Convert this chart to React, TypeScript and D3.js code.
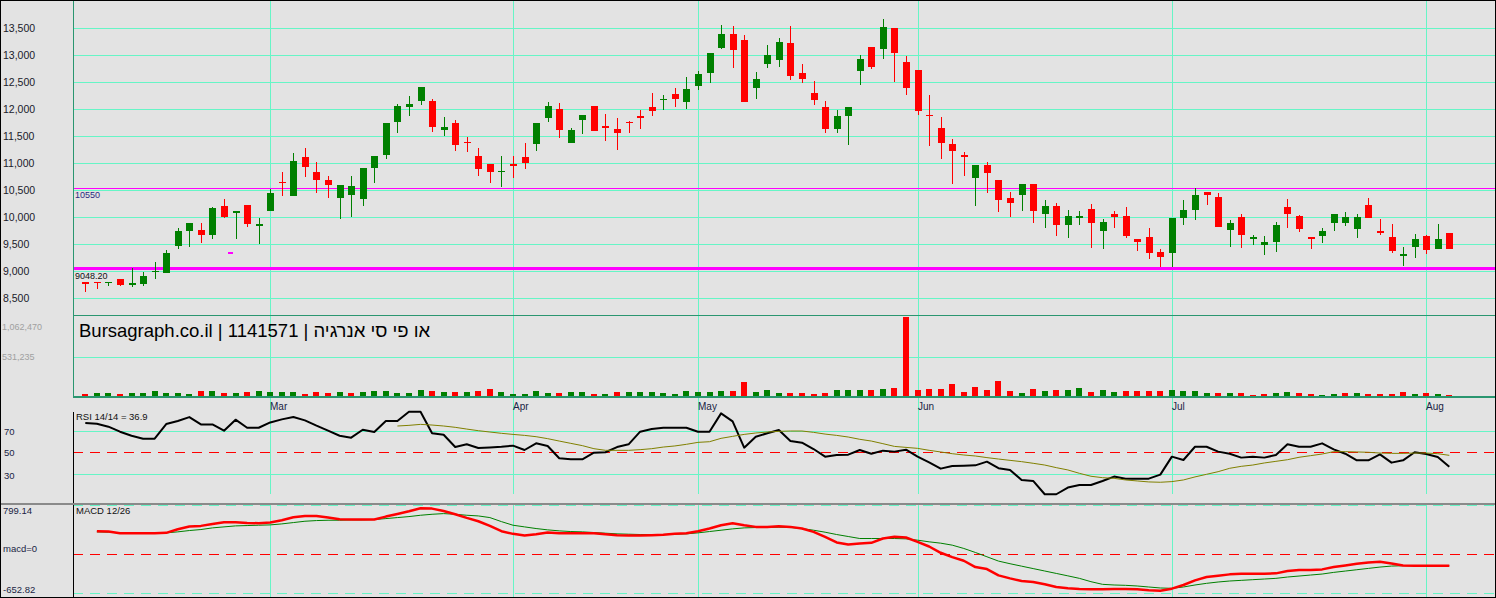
import { useEffect, useRef } from 'react';
import * as d3 from 'd3';

// OHLC per trading day (index 0 = mid Feb)
const opens = [8800, 8810, 8790, 8850, 8755, 8765, 8995, 8965, 9475, 9755, 9765, 9680, 10210, 10100, 10230, 9865, 10125, 10655, 10400, 11115, 10840, 10690, 10365, 10420, 10330, 10920, 11160, 11770, 12050, 12160, 12150, 11625, 11740, 11395, 11135, 10990, 10855, 10985, 11115, 11365, 11845, 12005, 11385, 11810, 12060, 11690, 11635, 11770, 11875, 12045, 12185, 12285, 12140, 12440, 12680, 13140, 13395, 13285, 12400, 12835, 12920, 13230, 12675, 12300, 12045, 11640, 11885, 12715, 13155, 13125, 13505, 12875, 12730, 11900, 11655, 11360, 11155, 10735, 10970, 10690, 10360, 10420, 10615, 10070, 10210, 9865, 10010, 10155, 9755, 10060, 10025, 9600, 9635, 9360, 9345, 9995, 10140, 10470, 10375, 9770, 10005, 9625, 9495, 9550, 10190, 10025, 9635, 9660, 9900, 9900, 9790, 10230, 9745, 9635, 9310, 9455, 9655, 9420, 9710];
const highs = [8810, 8810, 8810, 8860, 9055, 8990, 9165, 9395, 9795, 9900, 9895, 10200, 10340, 10115, 10230, 9995, 10525, 10840, 11190, 11285, 11025, 10765, 10605, 10765, 10915, 11140, 11745, 12100, 12240, 12410, 12190, 11850, 11795, 11490, 11285, 10995, 11135, 11135, 11375, 11750, 12135, 12115, 11655, 11895, 12062, 11915, 11840, 11790, 11990, 12300, 12265, 12395, 12600, 12710, 13045, 13560, 13545, 13375, 12690, 13200, 13320, 13545, 12840, 12525, 12155, 11990, 12045, 13005, 13155, 13675, 13506, 12990, 12730, 12265, 11860, 11450, 11210, 10970, 11025, 10690, 10470, 10620, 10620, 10320, 10265, 10135, 10115, 10245, 9970, 10115, 10190, 9600, 9800, 9415, 9995, 10320, 10550, 10470, 10450, 9950, 10060, 9680, 9655, 9915, 10340, 10045, 9635, 9800, 10065, 10100, 10060, 10360, 9970, 9875, 9450, 9690, 9675, 9875, 9710];
const lows = [8620, 8680, 8720, 8720, 8710, 8730, 8850, 8960, 9405, 9455, 9520, 9605, 9980, 9590, 9825, 9510, 10120, 10400, 10400, 10740, 10455, 10365, 9975, 10010, 10215, 10640, 11085, 11570, 11885, 12075, 11585, 11510, 11235, 11215, 10770, 10630, 10570, 10735, 10895, 11235, 11770, 11475, 11380, 11550, 11605, 11420, 11255, 11570, 11640, 11885, 11995, 12050, 12010, 12365, 12495, 13110, 12770, 12140, 12195, 12770, 12790, 12550, 12495, 12085, 11570, 11570, 11345, 12455, 12755, 12940, 12510, 12270, 11900, 11325, 11085, 10625, 10770, 10215, 10455, 10105, 10005, 10125, 9900, 9810, 9660, 9625, 9865, 9440, 9420, 9810, 9625, 9385, 9235, 9085, 9085, 9865, 9955, 10235, 9825, 9455, 9440, 9495, 9310, 9365, 9810, 9735, 9420, 9530, 9755, 9845, 9625, 9995, 9680, 9345, 9105, 9255, 9325, 9420, 9420];
const closes = [8780, 8790, 8810, 8755, 8785, 8915, 9010, 9335, 9745, 9895, 9680, 10175, 10000, 10110, 9870, 9875, 10450, 10645, 11045, 10940, 10700, 10605, 10600, 10580, 10915, 11135, 11740, 12060, 12090, 12405, 11680, 11665, 11345, 11385, 10900, 10845, 10865, 10975, 11010, 11745, 12060, 11625, 11615, 11895, 11605, 11645, 11570, 11760, 11865, 11975, 12195, 12195, 12375, 12655, 13045, 13395, 13105, 12140, 12555, 13000, 13245, 12625, 12570, 12180, 11640, 11875, 12045, 12930, 12785, 13525, 13050, 12400, 11975, 11890, 11385, 11235, 11125, 10970, 10825, 10325, 10270, 10615, 10125, 10210, 9865, 10025, 10020, 9900, 9915, 10010, 9660, 9550, 9345, 9270, 9995, 10135, 10415, 10420, 9825, 9895, 9680, 9635, 9545, 9860, 10070, 9790, 9625, 9745, 10060, 10005, 10005, 9995, 9735, 9385, 9320, 9600, 9400, 9600, 9420];

const volumes = [22000, 45000, 45000, 22000, 36000, 36000, 63000, 45000, 36000, 22000, 63000, 63000, 45000, 36000, 50000, 63000, 50000, 50000, 50000, 22000, 50000, 36000, 50000, 36000, 50000, 63000, 63000, 36000, 36000, 77000, 63000, 50000, 50000, 50000, 63000, 90000, 50000, 22000, 22000, 63000, 36000, 36000, 50000, 50000, 22000, 22000, 50000, 50000, 50000, 50000, 36000, 22000, 63000, 50000, 50000, 63000, 63000, 185000, 50000, 77000, 36000, 36000, 36000, 22000, 36000, 77000, 77000, 77000, 77000, 90000, 104000, 1062470, 77000, 90000, 90000, 158000, 50000, 117000, 77000, 198000, 63000, 36000, 90000, 63000, 77000, 77000, 104000, 50000, 77000, 50000, 63000, 63000, 63000, 63000, 77000, 63000, 63000, 36000, 36000, 36000, 36000, 9000, 22000, 36000, 50000, 36000, 22000, 9000, 22000, 36000, 36000, 22000, 22000, 22000, 50000, 22000, 36000, 22000, 9000];
const volumeDir = 'rggrggggggrgrgrggggrrrgrggggggrgrgrrgggggrggrgrgggggggggrrggg' +
  'rrrrgggrgrrrrrrrrrrrgrgrggrggrrrrggggrgrrrggrrggrgrrrrgrgr';

const rsi = [77.0, 76.4, 73.7, 69.1, 65.4, 62.7, 62.7, 76.1, 78.9, 82.5, 75.8, 75.8, 70.0, 80.1, 72.7, 72.7, 77.6, 80.4, 82.5, 79.5, 74.6, 70.0, 65.4, 63.6, 70.9, 68.8, 78.9, 78.9, 87.4, 87.4, 67.6, 66.3, 55.0, 57.5, 54.1, 54.7, 55.3, 56.3, 52.3, 58.4, 56.0, 44.7, 43.7, 43.7, 49.8, 50.2, 55.0, 57.5, 69.1, 71.5, 72.7, 72.7, 72.7, 69.1, 69.1, 85.9, 78.5, 54.4, 64.5, 67.6, 70.6, 60.5, 59.0, 53.2, 46.2, 47.7, 48.0, 52.3, 48.9, 51.7, 50.8, 52.6, 46.2, 41.0, 35.2, 37.6, 37.9, 38.2, 41.6, 35.6, 34.0, 24.8, 23.9, 11.7, 11.7, 17.8, 20.2, 20.2, 23.9, 27.9, 26.0, 26.0, 26.0, 29.7, 46.2, 43.1, 55.3, 55.3, 50.8, 48.9, 45.3, 46.2, 45.3, 47.7, 57.5, 55.3, 55.3, 58.4, 52.9, 48.9, 42.8, 42.8, 48.3, 40.7, 42.8, 50.2, 48.6, 45.9, 36.9];
const rsiAvg: (number | null)[] = [null, null, null, null, null, null, null, null, null, null, null, null, null, null, null, null, null, null, null, null, null, null, null, null, null, null, null, 74.3, 74.9, 75.8, 75.2, 74.3, 73.1, 71.5, 70.0, 68.8, 67.6, 66.6, 65.7, 64.5, 62.7, 60.5, 58.4, 56.3, 53.5, 52.0, 52.0, 52.0, 52.6, 53.5, 55.0, 56.0, 57.5, 59.3, 59.9, 63.0, 64.8, 66.6, 67.9, 68.8, 69.4, 69.7, 69.7, 68.5, 66.9, 65.7, 64.2, 62.1, 60.5, 58.1, 55.6, 54.7, 53.8, 52.0, 50.5, 48.9, 47.7, 46.8, 45.3, 44.0, 42.8, 41.6, 40.1, 38.5, 36.1, 34.0, 30.9, 28.2, 26.9, 26.3, 24.8, 23.9, 23.0, 22.7, 23.3, 24.8, 27.6, 30.0, 32.4, 35.5, 37.3, 38.5, 40.4, 41.9, 43.4, 45.6, 47.1, 48.6, 50.8, 50.8, 50.5, 50.2, 49.5, 49.2, 49.2, 49.5, 49.5, 48.9, 47.4];

const macd: (number | null)[] = [null, 371.8, 366.3, 338.9, 338.9, 338.9, 338.9, 344.4, 404.6, 448.5, 459.4, 492.3, 519.7, 519.7, 508.7, 503.3, 514.2, 552.6, 601.9, 623.8, 623.8, 596.4, 569.0, 563.5, 563.5, 563.5, 612.9, 656.7, 700.5, 749.8, 744.3, 706.0, 651.2, 590.9, 536.1, 459.4, 371.8, 327.9, 300.6, 322.5, 349.9, 338.9, 338.9, 338.9, 338.9, 322.5, 306.0, 300.6, 300.6, 306.0, 311.5, 327.9, 338.9, 371.8, 415.6, 470.4, 503.3, 470.4, 443.0, 443.0, 454.0, 443.0, 415.6, 360.8, 278.6, 185.5, 152.6, 169.1, 180.0, 251.2, 278.6, 267.7, 196.4, 119.7, 15.7, -55.6, -115.9, -220.0, -252.8, -357.0, -406.2, -450.1, -466.5, -504.9, -548.7, -570.6, -581.6, -587.1, -587.1, -581.6, -581.6, -587.1, -603.5, -609.0, -576.1, -515.8, -439.1, -384.3, -362.4, -340.5, -329.5, -329.5, -329.5, -324.0, -285.7, -269.3, -269.3, -258.3, -219.9, -192.6, -165.2, -143.2, -132.3, -159.7, -192.6, -198.0, -198.0, -198.0, -198.0];
const macdSignal: (number | null)[] = [null, 360.8, 355.3, 344.4, 344.4, 344.4, 344.4, 344.4, 360.8, 382.7, 399.2, 426.6, 443.0, 459.4, 464.9, 470.4, 475.9, 492.3, 514.2, 536.1, 547.1, 552.6, 552.6, 558.1, 558.1, 563.5, 580.0, 596.4, 612.9, 634.8, 651.2, 662.2, 651.2, 634.8, 623.8, 596.4, 530.0, 470.4, 443.0, 415.6, 393.7, 377.2, 366.3, 360.8, 349.9, 338.9, 327.9, 322.5, 317.0, 317.0, 317.0, 322.5, 327.9, 344.4, 366.3, 388.2, 410.1, 426.6, 432.1, 432.1, 437.5, 432.1, 415.6, 388.2, 355.3, 317.0, 284.1, 251.2, 251.2, 251.2, 251.2, 245.8, 223.8, 196.4, 174.5, 141.7, 86.9, 21.1, -50.1, -121.3, -165.0, -205.0, -245.0, -285.0, -325.0, -365.0, -406.2, -461.0, -504.9, -515.8, -521.3, -532.3, -548.7, -565.1, -570.6, -548.7, -515.8, -488.4, -466.5, -450.1, -439.1, -428.2, -417.2, -406.2, -384.3, -367.9, -351.5, -335.1, -307.7, -285.7, -263.8, -241.9, -220.0, -203.5, -198.0, -198.0, -198.0, -198.0, -198.0];

const priceTicks = [8500, 9000, 9500, 10000, 10500, 11000, 11500, 12000, 12500, 13000, 13500];
const volumeTicks = [531235, 1062470];
const rsiTicks = [30, 50, 70];
const macdLabels = ['799.14', 'macd=0', '-652.82'];
const monthNames = ['Mar', 'Apr', 'May', 'Jun', 'Jul', 'Aug'];
const monthStarts = [16, 37, 53, 72, 94, 116];
const levelLines = [10550, 9048.2];
const markerPoints = [{ i: 12.5, v: 9352 }];

const title = 'Bursagraph.co.il | 1141571 | או פי סי אנרגיה';

const W = 1496;
const H = 598;
const FONT = '"Liberation Sans", Arial, sans-serif';
const GRID = '#66f5c6';
const PANEL = '#2a9670';
const UP = '#008000';
const DOWN = '#ff0000';

export default function App() {
  const svgRef = useRef<SVGSVGElement>(null);

  useEffect(() => {
    if (!svgRef.current) return;
    const svg = d3.select(svgRef.current);
    svg.selectAll('*').remove();

    const left = 73;
    const right = 1495;
    const n = closes.length;

    const x = d3.scaleLinear().domain([0, n - 1]).range([85.3, 1449.3]);
    const py = d3.scaleLinear().domain([8500, 13500]).range([298.3, 28.3]);
    const vy = d3.scaleLinear().domain([0, 1062470]).range([396, 317.4]);
    const ry = d3.scaleLinear().domain([30, 70]).range([474.3, 430.7]);
    const my = d3.scaleLinear().domain([-652.82, 799.14]).range([593.3, 505.3]);

    // background
    svg.append('rect').attr('width', W).attr('height', H).attr('fill', '#e3e3e3');

    // horizontal price grid
    const g = svg.append('g').attr('shape-rendering', 'crispEdges');
    g.selectAll('.pgrid')
      .data(priceTicks)
      .enter()
      .append('line')
      .attr('x1', left).attr('x2', right)
      .attr('y1', d => Math.round(py(d)) + 0.5).attr('y2', d => Math.round(py(d)) + 0.5)
      .attr('stroke', GRID);

    // volume grid
    g.append('line')
      .attr('x1', left).attr('x2', right)
      .attr('y1', Math.round(vy(volumeTicks[0])) + 0.5).attr('y2', Math.round(vy(volumeTicks[0])) + 0.5)
      .attr('stroke', GRID);

    // rsi grid
    [70, 30].forEach(v => {
      g.append('line')
        .attr('x1', left).attr('x2', right)
        .attr('y1', Math.round(ry(v)) + 0.5).attr('y2', Math.round(ry(v)) + 0.5)
        .attr('stroke', GRID);
    });

    // month verticals
    monthStarts.forEach(i => {
      const xx = Math.round(x(i)) + 0.5;
      g.append('line').attr('x1', xx).attr('x2', xx).attr('y1', 0).attr('y2', 494).attr('stroke', GRID);
      g.append('line').attr('x1', xx).attr('x2', xx).attr('y1', 505).attr('y2', 597).attr('stroke', GRID);
    });

    // macd dashed bounds
    [799.14, -652.82].forEach(v => {
      g.append('line')
        .attr('x1', left).attr('x2', right)
        .attr('y1', Math.round(my(v)) + 0.5).attr('y2', Math.round(my(v)) + 0.5)
        .attr('stroke', GRID).attr('stroke-dasharray', '10,7');
    });

    // zero / 50 red dashed
    g.append('line')
      .attr('x1', left).attr('x2', right)
      .attr('y1', Math.round(ry(50)) - 0.5).attr('y2', Math.round(ry(50)) - 0.5)
      .attr('stroke', DOWN).attr('stroke-dasharray', '10,7');
    g.append('line')
      .attr('x1', left).attr('x2', right)
      .attr('y1', Math.round(my(0)) + 0.5).attr('y2', Math.round(my(0)) + 0.5)
      .attr('stroke', DOWN).attr('stroke-dasharray', '10,7');

    // level lines
    g.append('line')
      .attr('x1', left).attr('x2', right)
      .attr('y1', Math.round(py(levelLines[0])) + 0.5).attr('y2', Math.round(py(levelLines[0])) + 0.5)
      .attr('stroke', '#ff00ff');
    g.append('line')
      .attr('x1', left).attr('x2', right)
      .attr('y1', py(levelLines[1])).attr('y2', py(levelLines[1]))
      .attr('stroke', '#ff00ff').attr('stroke-width', 3);

    // panel lines
    g.append('line').attr('x1', left + 0.5).attr('x2', left + 0.5).attr('y1', 0).attr('y2', 397).attr('stroke', PANEL);
    g.append('line').attr('x1', left).attr('x2', right).attr('y1', 315.5).attr('y2', 315.5).attr('stroke', PANEL);
    g.append('line').attr('x1', left).attr('x2', right).attr('y1', 396.5).attr('y2', 396.5).attr('stroke', PANEL).attr('stroke-width', 2);
    g.append('line').attr('x1', left + 0.5).attr('x2', left + 0.5).attr('y1', 412).attr('y2', 597).attr('stroke', '#000');
    g.append('line').attr('x1', 0).attr('x2', right).attr('y1', 504).attr('y2', 504).attr('stroke', '#8a8a8a').attr('stroke-width', 2);

    // outer frame
    g.append('line').attr('x1', 0).attr('x2', W).attr('y1', 0.5).attr('y2', 0.5).attr('stroke', '#000');
    g.append('line').attr('x1', 0.5).attr('x2', 0.5).attr('y1', 0).attr('y2', 598).attr('stroke', '#000');
    g.append('line').attr('x1', right + 0.5).attr('x2', right + 0.5).attr('y1', 0).attr('y2', 598).attr('stroke', '#000');
    g.append('line').attr('x1', 0).attr('x2', W).attr('y1', 597.5).attr('y2', 597.5).attr('stroke', '#000');

    // candles
    const idx = d3.range(n);
    const candles = g.append('g');
    candles.selectAll('.wick')
      .data(idx)
      .enter()
      .append('line')
      .attr('x1', i => Math.round(x(i)) + 0.5).attr('x2', i => Math.round(x(i)) + 0.5)
      .attr('y1', i => py(highs[i])).attr('y2', i => py(lows[i]))
      .attr('stroke', i => (closes[i] >= opens[i] ? UP : DOWN));
    candles.selectAll('.body')
      .data(idx)
      .enter()
      .append('rect')
      .attr('x', i => Math.round(x(i)) - 3)
      .attr('width', 7)
      .attr('y', i => py(Math.max(opens[i], closes[i])))
      .attr('height', i => Math.max(1.5, Math.abs(py(opens[i]) - py(closes[i]))))
      .attr('fill', i => (closes[i] >= opens[i] ? UP : DOWN));

    // marker
    g.selectAll('.marker')
      .data(markerPoints)
      .enter()
      .append('rect')
      .attr('x', d => x(d.i) - 2)
      .attr('y', d => py(d.v))
      .attr('width', 5)
      .attr('height', 1.5)
      .attr('fill', '#ff00ff');

    // volume bars
    g.selectAll('.vol')
      .data(idx)
      .enter()
      .append('rect')
      .attr('x', i => Math.round(x(i)) - 3)
      .attr('width', 6)
      .attr('y', i => vy(volumes[i]))
      .attr('height', i => vy(0) - vy(volumes[i]))
      .attr('fill', i => (volumeDir[i] === 'g' ? UP : DOWN));

    // rsi lines
    const rsiLine = d3.line<number>().x((_, i) => x(i)).y(d => ry(d));
    svg.append('path').datum(rsi).attr('d', rsiLine).attr('fill', 'none').attr('stroke', '#000').attr('stroke-width', 2).attr('stroke-linejoin', 'round');
    const avgLine = d3.line<number | null>().defined(d => d != null).x((_, i) => x(i)).y(d => ry(d as number));
    svg.append('path').datum(rsiAvg).attr('d', avgLine).attr('fill', 'none').attr('stroke', '#808000').attr('stroke-width', 1);

    // macd lines
    const mLine = d3.line<number | null>().defined(d => d != null).x((_, i) => x(i)).y(d => my(d as number));
    svg.append('path').datum(macdSignal).attr('d', mLine).attr('fill', 'none').attr('stroke', UP).attr('stroke-width', 1);
    svg.append('path').datum(macd).attr('d', mLine).attr('fill', 'none').attr('stroke', DOWN).attr('stroke-width', 2.5).attr('stroke-linejoin', 'round');

    // text
    const t = svg.append('g').attr('font-family', FONT);
    t.selectAll('.plabel')
      .data(priceTicks)
      .enter()
      .append('text')
      .attr('x', 3)
      .attr('y', d => py(d))
      .attr('dy', '0.35em')
      .attr('font-size', 10.5)
      .attr('fill', '#1a1a2a')
      .text(d => d3.format(',')(d));

    t.append('text').attr('x', 75).attr('y', py(levelLines[0]) + 10).attr('font-size', 9)
      .attr('fill', '#2a2a80').text(String(levelLines[0]));
    t.append('text').attr('x', 75).attr('y', py(levelLines[1]) + 10).attr('font-size', 9)
      .attr('fill', '#111').text(levelLines[1].toFixed(2));

    t.selectAll('.vlabel')
      .data(volumeTicks)
      .enter()
      .append('text')
      .attr('x', 2)
      .attr('y', d => Math.max(vy(d), 327))
      .attr('dy', '0.35em')
      .attr('font-size', 9)
      .attr('fill', '#a0a0a0')
      .text(d => d3.format(',')(d));

    t.append('text').attr('x', 79).attr('y', 336.5).attr('font-size', 18.5).attr('fill', '#000').text(title);

    t.selectAll('.month')
      .data(monthStarts)
      .enter()
      .append('text')
      .attr('x', i => Math.round(x(i)))
      .attr('y', 406)
      .attr('dy', '0.35em')
      .attr('font-size', 10)
      .attr('fill', '#1a2344')
      .text((_, k) => monthNames[k]);

    t.append('text').attr('x', 76).attr('y', 416.5).attr('dy', '0.35em').attr('font-size', 9.5)
      .attr('fill', '#111').text(`RSI 14/14 = ${rsi[n - 1].toFixed(1)}`);
    t.selectAll('.rlabel')
      .data(rsiTicks)
      .enter()
      .append('text')
      .attr('x', 4)
      .attr('y', d => ry(d) + (d === 30 ? 1.5 : 0.5))
      .attr('dy', '0.35em')
      .attr('font-size', 9.5)
      .attr('fill', '#1a2344')
      .text(d => String(d));

    t.append('text').attr('x', 76).attr('y', 510.7).attr('dy', '0.35em').attr('font-size', 9.5)
      .attr('fill', '#111').text('MACD 12/26');
    const macdLabelY = [510.7, 549, 590];
    t.selectAll('.mlabel')
      .data(macdLabels)
      .enter()
      .append('text')
      .attr('x', 3)
      .attr('y', (_, k) => macdLabelY[k])
      .attr('dy', '0.35em')
      .attr('font-size', 9.5)
      .attr('fill', '#1a2344')
      .text(d => d);
  }, []);

  return (
    <svg
      ref={svgRef}
      width={W}
      height={H}
      style={{ position: 'fixed', left: 0, top: 0, display: 'block' }}
    />
  );
}
